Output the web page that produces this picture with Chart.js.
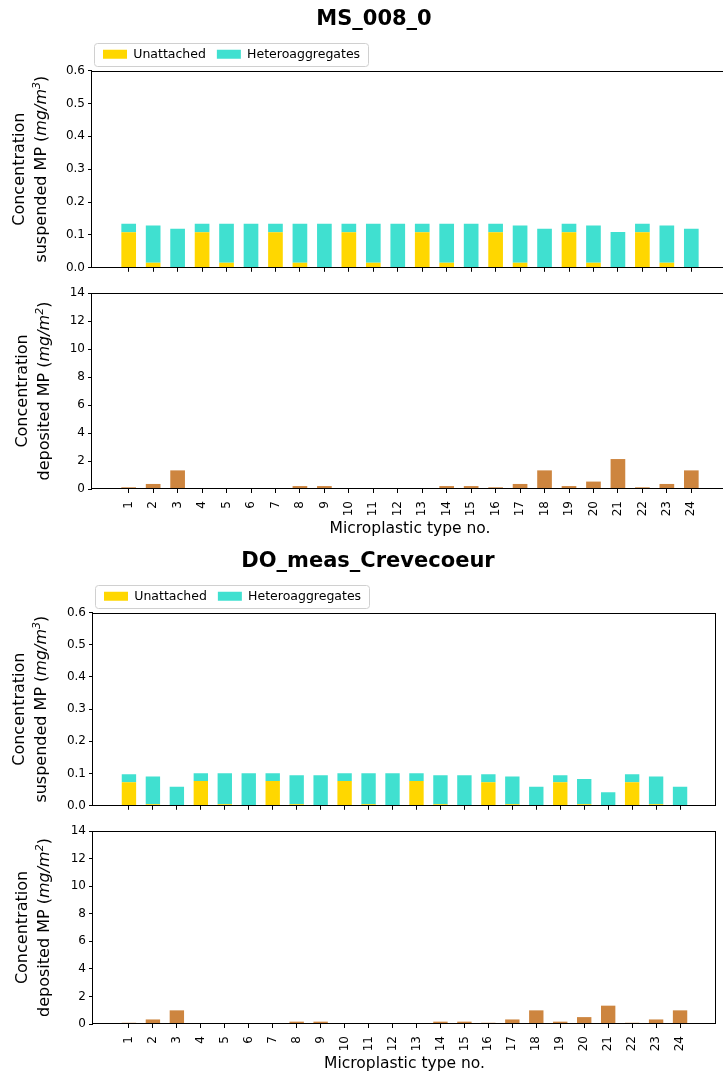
<!DOCTYPE html>
<html>
<head>
<meta charset="utf-8">
<title>MS_008_0 / DO_meas_Crevecoeur</title>
<script src="https://cdn.jsdelivr.net/npm/chart.js@4.4.1/dist/chart.umd.min.js"></script>
<style>
  html, body { margin: 0; padding: 0; background: #fff; overflow: hidden; }
  body { width: 723px; height: 1077px; position: relative; }
  canvas { position: absolute; left: 0; }
</style>
</head>
<body>
<canvas id="msSusp" width="728" height="277" style="top:1px"></canvas>
<canvas id="msDep" width="728" height="262" style="top:280px"></canvas>
<canvas id="doSusp" width="716" height="273" style="top:543px"></canvas>
<canvas id="doDep" width="716" height="259" style="top:818px"></canvas>
<script>
// microplastic type numbers
const categories = [1, 2, 3, 4, 5, 6, 7, 8, 9, 10, 11, 12, 13, 14, 15, 16, 17, 18, 19, 20, 21, 22, 23, 24];

// MS_008_0, suspended (mg/m3)
const msUnattached = [0.108, 0.015, 0, 0.108, 0.015, 0, 0.108, 0.015, 0, 0.108, 0.015, 0,
                      0.108, 0.015, 0, 0.108, 0.015, 0, 0.108, 0.015, 0, 0.108, 0.015, 0];
const msHetero = [0.026, 0.114, 0.119, 0.026, 0.119, 0.134, 0.026, 0.119, 0.134, 0.026, 0.119, 0.134,
                  0.026, 0.119, 0.134, 0.026, 0.114, 0.119, 0.026, 0.114, 0.109, 0.026, 0.114, 0.119];
// MS_008_0, deposited (mg/m2)
const msDeposited = [0.12, 0.36, 1.33, 0, 0, 0, 0, 0.21, 0.21, 0, 0, 0,
                     0, 0.21, 0.21, 0.12, 0.36, 1.33, 0.21, 0.53, 2.14, 0.12, 0.36, 1.33];

// DO_meas_Crevecoeur, suspended (mg/m3)
const doUnattached = [0.073, 0.005, 0, 0.077, 0.005, 0, 0.077, 0.005, 0, 0.077, 0.005, 0,
                      0.077, 0.005, 0, 0.073, 0.005, 0, 0.073, 0.005, 0, 0.073, 0.005, 0];
const doHetero = [0.025, 0.086, 0.059, 0.024, 0.096, 0.101, 0.024, 0.090, 0.095, 0.024, 0.096, 0.101,
                  0.024, 0.090, 0.095, 0.025, 0.086, 0.059, 0.022, 0.078, 0.042, 0.025, 0.086, 0.059];
// DO_meas_Crevecoeur, deposited (mg/m2)
const doDeposited = [0.09, 0.33, 0.99, 0, 0, 0, 0, 0.17, 0.17, 0, 0, 0,
                     0, 0.17, 0.17, 0.09, 0.33, 0.99, 0.17, 0.5, 1.33, 0.09, 0.33, 0.99];

const suspTicks = [0, 0.1, 0.2, 0.3, 0.4, 0.5, 0.6];
const depTicks = [0, 2, 4, 6, 8, 10, 12, 14];

Chart.defaults.font.family = "'DejaVu Sans', sans-serif";
Chart.defaults.color = '#000';

const GOLD = '#FFD700';
const TURQ = '#40E0D0';
const PERU = '#CD853F';

const points = arr => categories.map((c, i) => ({ x: c, y: arr[i] }));

// matplotlib box around the axes
const spines = {
  id: 'spines',
  afterDraw(chart) {
    const { ctx, chartArea: a } = chart;
    ctx.save();
    ctx.strokeStyle = '#000';
    ctx.lineWidth = 1;
    const l = Math.round(a.left) - 0.5, r = Math.round(a.right) - 0.5;
    const t = Math.round(a.top) + 0.5, b = Math.round(a.bottom) - 0.5;
    ctx.strokeRect(l, t, r - l, b - t);
    ctx.restore();
  }
};

// rotated y label with italic units
const yTitle = {
  id: 'yTitle',
  afterDraw(chart, args, opts) {
    if (!opts.lines) return;
    const { ctx, chartArea: a } = chart;
    const cy = (a.top + a.bottom) / 2;
    const fontOf = s => (s.it ? 'italic ' : '') + (s.sup ? 11 : 16) + "px 'DejaVu Sans'";
    ctx.save();
    ctx.fillStyle = '#000';
    ctx.textBaseline = 'middle';
    ctx.textAlign = 'left';
    opts.lines.forEach((segs, li) => {
      let total = 0;
      segs.forEach(s => { ctx.font = fontOf(s); total += ctx.measureText(s.t).width; });
      ctx.save();
      ctx.translate(opts.x[li], cy);
      ctx.rotate(-Math.PI / 2);
      let x = -total / 2;
      segs.forEach(s => {
        ctx.font = fontOf(s);
        ctx.fillText(s.t, x, s.sup ? -5 : 0);
        x += ctx.measureText(s.t).width;
      });
      ctx.restore();
    });
    ctx.restore();
  }
};

// legend frame like matplotlib's
const legendFrame = {
  id: 'legendFrame',
  beforeDraw(chart) {
    const lg = chart.legend;
    if (!lg || !lg.options.display || !lg.legendHitBoxes || !lg.legendHitBoxes.length) return;
    const hb = lg.legendHitBoxes;
    const last = hb[hb.length - 1];
    const x0 = hb[0].left - 9, x1 = last.left + last.width + 8;
    const y0 = hb[0].top - 5, y1 = hb[0].top + hb[0].height + 5;
    const ctx = chart.ctx;
    ctx.save();
    ctx.fillStyle = '#fff';
    ctx.strokeStyle = '#d0d0d0';
    ctx.lineWidth = 1;
    ctx.beginPath();
    ctx.roundRect(Math.round(x0) + 0.5, Math.round(y0) + 0.5, Math.round(x1 - x0), Math.round(y1 - y0), 3);
    ctx.fill();
    ctx.stroke();
    ctx.restore();
  }
};

function xAxis(showLabels, fitHeight) {
  return {
    type: 'linear',
    min: -0.5,
    max: 25.5,
    offset: false,
    stacked: true,
    afterBuildTicks: s => { s.ticks = categories.map(v => ({ value: v })); },
    afterFit: s => { s.height = fitHeight; },
    ticks: {
      autoSkip: false,
      minRotation: 90,
      maxRotation: 90,
      padding: 8,
      font: { size: 12 },
      callback: v => showLabels ? String(v) : ''
    },
    grid: { offset: false, drawOnChartArea: false, drawTicks: true, tickLength: 4, color: '#000' },
    border: { display: false },
    title: {
      display: showLabels,
      text: 'Microplastic type no.',
      font: { size: 15.5 },
      padding: { top: 0, bottom: 4.2 }
    }
  };
}

function yAxis(tickVals, max, fitWidth, decimals) {
  return {
    min: 0,
    max: max,
    stacked: true,
    afterFit: s => { s.width = fitWidth; },
    afterBuildTicks: s => { s.ticks = tickVals.map(v => ({ value: v })); },
    ticks: {
      padding: 3,
      font: { size: 12 },
      callback: v => decimals ? v.toFixed(decimals) : String(v)
    },
    grid: { drawOnChartArea: false, drawTicks: true, tickLength: 4, color: '#000' },
    border: { display: false }
  };
}

function suspendedChart(id, title, unattached, hetero, fitWidth) {
  return new Chart(document.getElementById(id), {
    type: 'bar',
    data: {
      datasets: [
        { label: 'Unattached', data: points(unattached), backgroundColor: GOLD,
          barPercentage: 0.6, categoryPercentage: 1 },
        { label: 'Heteroaggregates', data: points(hetero), backgroundColor: TURQ,
          barPercentage: 0.6, categoryPercentage: 1 }
      ]
    },
    options: {
      responsive: false,
      animation: false,
      layout: { padding: { top: 2, left: 20, right: 0, bottom: 0 } },
      scales: {
        x: xAxis(false, 8),
        y: yAxis(suspTicks, 0.6, fitWidth, 1)
      },
      plugins: {
        title: {
          display: true,
          text: title,
          font: { size: 21, weight: 'bold' },
          color: '#000',
          padding: { top: 4, bottom: 4.8 }
        },
        legend: {
          display: true,
          position: 'top',
          align: 'start',
          fullSize: false,
          labels: { boxWidth: 24, boxHeight: 9, padding: 11, font: { size: 12.5 }, color: '#000' }
        },
        tooltip: { enabled: false },
        yTitle: {
          x: [20, 42],
          lines: [
            [{ t: 'Concentration' }],
            [{ t: 'suspended MP (' }, { t: 'mg/m', it: true }, { t: '3', it: true, sup: true }, { t: ')' }]
          ]
        }
      }
    },
    plugins: [legendFrame, spines, yTitle]
  });
}

function depositedChart(id, values, fitWidth) {
  return new Chart(document.getElementById(id), {
    type: 'bar',
    data: {
      datasets: [
        { label: 'Deposited', data: points(values), backgroundColor: PERU,
          barPercentage: 0.6, categoryPercentage: 1 }
      ]
    },
    options: {
      responsive: false,
      animation: false,
      layout: { padding: { top: 13, left: 0, right: 0, bottom: 0 } },
      scales: {
        x: xAxis(true, 53),
        y: yAxis(depTicks, 14, fitWidth, 0)
      },
      plugins: {
        legend: { display: false },
        tooltip: { enabled: false },
        yTitle: {
          x: [23, 45],
          lines: [
            [{ t: 'Concentration' }],
            [{ t: 'deposited MP (' }, { t: 'mg/m', it: true }, { t: '2', it: true, sup: true }, { t: ')' }]
          ]
        }
      }
    },
    plugins: [spines, yTitle]
  });
}

suspendedChart('msSusp', 'MS_008_0', msUnattached, msHetero, 72);
depositedChart('msDep', msDeposited, 92);
suspendedChart('doSusp', 'DO_meas_Crevecoeur', doUnattached, doHetero, 73);
depositedChart('doDep', doDeposited, 93);
</script>
</body>
</html>
